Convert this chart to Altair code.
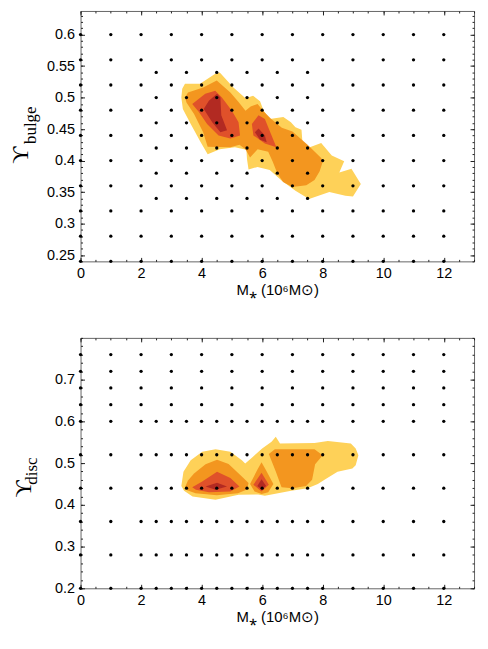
import altair as alt
import pandas as pd

# ---------------- data ----------------
# model grid (top panel: bulge)
top_full_y = [0.60, 0.56, 0.52, 0.48, 0.44, 0.40, 0.36, 0.32, 0.28, 0.24]
top_full_x = [0, 1, 2, 3, 4, 5, 6, 7, 8, 9, 10, 11, 12]
top_half_y = [0.54, 0.50, 0.46, 0.42, 0.38, 0.34]
top_half_x = [2.5, 3.5, 4.5, 5.5, 6.5, 7.5]

# model grid (bottom panel: disc)
bot_upper_y = [0.76, 0.72, 0.68, 0.64]
bot_upper_x = [0, 1, 2, 3, 4, 5, 6, 7, 8, 9, 10, 11, 12]
bot_lower_y = [0.60, 0.52, 0.44, 0.36, 0.28, 0.20]
bot_lower_x = [0, 1, 2, 2.5, 3, 3.5, 4, 4.5, 5, 5.5, 6, 6.5, 7, 7.5, 8, 9, 10, 11, 12]

# contour outlines, top panel (M*, Upsilon_bulge)
top_yellow = [(3.33, 0.500), (3.36, 0.514), (3.45, 0.522), (3.95, 0.522), (4.45, 0.538),
              (4.60, 0.540), (5.05, 0.516), (5.45, 0.499), (5.70, 0.503), (5.93, 0.494),
              (6.05, 0.479), (6.25, 0.466), (6.70, 0.469), (6.95, 0.461), (7.10, 0.453),
              (7.30, 0.449), (7.35, 0.417), (7.95, 0.428), (8.30, 0.408), (8.71, 0.399),
              (8.55, 0.381), (8.95, 0.387), (9.26, 0.363), (9.00, 0.343), (8.75, 0.344),
              (8.22, 0.350), (7.55, 0.339), (7.10, 0.352), (6.65, 0.368), (6.25, 0.385),
              (5.85, 0.390), (5.55, 0.386), (5.50, 0.402), (5.48, 0.417), (5.10, 0.421),
              (4.60, 0.418), (4.20, 0.410), (3.96, 0.430), (3.64, 0.458), (3.38, 0.482)]
top_orange = [(3.45, 0.500), (3.55, 0.508), (4.05, 0.516), (4.50, 0.527), (4.95, 0.508),
              (5.22, 0.493), (5.45, 0.479), (5.62, 0.486), (5.85, 0.490), (6.05, 0.478),
              (6.30, 0.466), (6.65, 0.452), (7.00, 0.446), (7.50, 0.425), (7.95, 0.404),
              (8.00, 0.398), (7.90, 0.383), (7.73, 0.369), (7.46, 0.361), (7.00, 0.358),
              (6.69, 0.366), (6.50, 0.380), (6.35, 0.398), (6.20, 0.414), (5.85, 0.418),
              (5.60, 0.405), (5.45, 0.418), (5.25, 0.425), (4.95, 0.421), (4.20, 0.422),
              (4.05, 0.445), (3.75, 0.474), (3.50, 0.492)]
top_red_a = [(3.69, 0.490), (4.12, 0.506), (4.45, 0.511), (4.67, 0.500), (5.00, 0.479),
             (5.22, 0.461), (5.27, 0.440), (4.95, 0.435), (4.56, 0.440), (4.18, 0.458),
             (3.91, 0.477)]
top_red_b = [(5.66, 0.458), (5.88, 0.472), (6.09, 0.466), (6.20, 0.453), (6.47, 0.421),
             (6.09, 0.427), (5.71, 0.440)]
top_dark_a = [(4.07, 0.482), (4.24, 0.495), (4.51, 0.506), (4.62, 0.500), (4.65, 0.472),
              (4.84, 0.448), (4.62, 0.445), (4.35, 0.461)]
top_dark_b = [(5.76, 0.445), (5.88, 0.451), (6.09, 0.440), (6.15, 0.429), (5.93, 0.433)]

# contour outlines, bottom panel (M*, Upsilon_disc)
bot_yellow = [(3.33, 0.445), (3.40, 0.479), (3.64, 0.507), (4.02, 0.527), (4.46, 0.533),
              (4.95, 0.527), (5.33, 0.507), (5.44, 0.499), (5.66, 0.513), (6.00, 0.535),
              (6.31, 0.551), (6.45, 0.563), (6.59, 0.547), (7.73, 0.548), (8.17, 0.553),
              (8.93, 0.547), (9.09, 0.535), (9.18, 0.519), (9.09, 0.495), (8.98, 0.487),
              (8.49, 0.479), (8.06, 0.460), (7.84, 0.450), (7.50, 0.440), (6.96, 0.434),
              (6.09, 0.422), (5.87, 0.425), (5.22, 0.424), (4.46, 0.412), (3.70, 0.420),
              (3.42, 0.434)]
bot_orange_a = [(3.45, 0.442), (3.55, 0.458), (3.75, 0.475), (4.13, 0.497), (4.51, 0.508),
                (4.89, 0.498), (5.33, 0.468), (5.55, 0.452), (5.50, 0.437), (5.20, 0.428),
                (4.50, 0.423), (3.80, 0.428), (3.52, 0.435)]
bot_orange_b = [(5.60, 0.450), (5.85, 0.485), (5.98, 0.502), (6.15, 0.480), (6.37, 0.450),
                (6.20, 0.430), (5.98, 0.426), (5.75, 0.432)]
bot_orange_c = [(6.22, 0.522), (6.42, 0.533), (7.73, 0.533), (7.84, 0.527), (8.00, 0.519),
                (7.75, 0.497), (7.65, 0.460), (7.45, 0.445), (7.00, 0.440), (6.64, 0.442),
                (6.45, 0.480)]
bot_red_a = [(3.69, 0.442), (4.02, 0.456), (4.51, 0.479), (4.95, 0.464), (5.25, 0.444),
             (4.95, 0.432), (4.24, 0.430), (3.81, 0.436)]
bot_red_b = [(5.71, 0.448), (5.98, 0.477), (6.22, 0.448), (5.98, 0.432)]
bot_dark_a = [(4.13, 0.444), (4.51, 0.453), (4.84, 0.444), (4.46, 0.436)]
bot_dark_b = [(5.84, 0.445), (5.98, 0.461), (6.13, 0.445), (5.98, 0.437)]

level_colors = ["#FED158", "#F3961F", "#E0512A", "#B22A22"]

x_major = [0, 2, 4, 6, 8, 10, 12]
x_minor = [v * 0.5 for v in range(0, 27)]
top_y_major = [0.25, 0.30, 0.35, 0.40, 0.45, 0.50, 0.55, 0.60]
top_y_minor = [round(0.24 + 0.01 * k, 2) for k in range(0, 40)]
bot_y_major = [0.2, 0.3, 0.4, 0.5, 0.6, 0.7]
bot_y_minor = [round(0.2 + 0.02 * k, 2) for k in range(0, 31)]

x_title = "M\u204e (10\u2076M\u2299)"
top_sym, top_sub = "\u03d2", "bulge"
bot_sym, bot_sub = "\u03d2", "disc"

# ---------------- helpers ----------------
W, H = 396, 252
SANS = "Liberation Sans, Arial, sans-serif"
SERIF = "Liberation Serif, DejaVu Serif, serif"


def grid_df(rows_a, xs_a, rows_b, xs_b):
    pts = [(x, y) for y in rows_a for x in xs_a] + [(x, y) for y in rows_b for x in xs_b]
    return pd.DataFrame(pts, columns=["x", "y"])


def poly_df(polys):
    rows = []
    for pid, pts in enumerate(polys):
        for i, (x, y) in enumerate(pts + [pts[0]]):
            rows.append({"pid": pid, "i": i, "x": x, "y": y})
    return pd.DataFrame(rows)


def level_layer(polys, color, xs, ys):
    return alt.Chart(poly_df(polys)).mark_line(
        filled=True, fill=color, strokeOpacity=0, strokeWidth=0
    ).encode(
        x=alt.X("x:Q", scale=xs, axis=None),
        y=alt.Y("y:Q", scale=ys, axis=None),
        detail="pid:N",
        order="i:Q",
    )


def axis_layer(df, xs, ys, xaxis, yaxis):
    return alt.Chart(df).mark_point(opacity=0).encode(
        x=alt.X("x:Q", scale=xs, axis=xaxis),
        y=alt.Y("y:Q", scale=ys, axis=yaxis),
    )


def text_layer(txt, px, py, size):
    return alt.Chart(pd.DataFrame({"t": [txt]})).mark_text(
        angle=270, font=SERIF, fontSize=size, align="center", baseline="middle", color="black"
    ).encode(text="t:N", x=alt.value(px), y=alt.value(py))


def make_panel(dots, levels, ydom, y_major, y_minor, sym, sub, sym_pos, sub_pos):
    xs = alt.Scale(domain=[0, 13], nice=False, zero=False)
    ys = alt.Scale(domain=ydom, nice=False, zero=False)
    common = dict(domain=False, grid=False, tickColor="#222", tickWidth=1)
    flat = dict(minExtent=0, maxExtent=0)
    layers = []
    for polys, col in zip(levels, level_colors):
        layers.append(level_layer(polys, col, xs, ys))
    layers.append(
        alt.Chart(dots).mark_circle(size=11, color="black", opacity=1).encode(
            x=alt.X("x:Q", scale=xs, axis=None), y=alt.Y("y:Q", scale=ys, axis=None)
        )
    )
    # major axes with labels (bottom / left), ticks pointing inward
    layers.append(axis_layer(
        dots, xs, ys,
        alt.Axis(orient="bottom", values=x_major, format="d", tickSize=4, offset=-4,
                 labelPadding=5, title=x_title, titlePadding=3, labelFlush=False, **common),
        alt.Axis(orient="left", values=y_major, format=".2~f", tickSize=4, offset=-4,
                 labelPadding=6, title=None, **common),
    ))
    # major ticks on top / right
    layers.append(axis_layer(
        dots, xs, ys,
        alt.Axis(orient="top", values=x_major, tickSize=4, offset=-4, labels=False, title=None, **common, **flat),
        alt.Axis(orient="right", values=y_major, tickSize=4, offset=-4, labels=False, title=None, **common, **flat),
    ))
    # minor ticks
    layers.append(axis_layer(
        dots, xs, ys,
        alt.Axis(orient="bottom", values=x_minor, tickSize=2, offset=-2, labels=False, title=None, **common, **flat),
        alt.Axis(orient="left", values=y_minor, tickSize=2, offset=-2, labels=False, title=None, **common, **flat),
    ))
    layers.append(axis_layer(
        dots, xs, ys,
        alt.Axis(orient="top", values=x_minor, tickSize=2, offset=-2, labels=False, title=None, **common, **flat),
        alt.Axis(orient="right", values=y_minor, tickSize=2, offset=-2, labels=False, title=None, **common, **flat),
    ))
    layers.append(text_layer(sym, sym_pos[0], sym_pos[1], 24))
    layers.append(text_layer(sub, sub_pos[0], sub_pos[1], 17))
    return alt.layer(*layers).resolve_axis(x="independent", y="independent").properties(width=W, height=H)


top_dots = grid_df(top_full_y, top_full_x, top_half_y, top_half_x)
bot_dots = grid_df(bot_upper_y, bot_upper_x, bot_lower_y, bot_lower_x)

top = make_panel(
    top_dots,
    [[top_yellow], [top_orange], [top_red_a, top_red_b], [top_dark_a, top_dark_b]],
    [0.24, 0.6375], top_y_major, top_y_minor, top_sym, top_sub, (-60, 145), (-50, 115),
)
bottom = make_panel(
    bot_dots,
    [[bot_yellow], [bot_orange_a, bot_orange_b, bot_orange_c], [bot_red_a, bot_red_b], [bot_dark_a, bot_dark_b]],
    [0.2, 0.8], bot_y_major, bot_y_minor, bot_sym, bot_sub, (-57, 152), (-49, 134),
)

chart = alt.vconcat(top, bottom, spacing=39).properties(
    padding={"left": 0, "top": 0, "right": 5, "bottom": 5}
).configure_view(stroke="#666", strokeWidth=1).configure_axis(
    labelFont=SANS, labelFontSize=14.5, labelColor="black",
    titleFont=SANS, titleFontSize=15, titleFontWeight="normal", titleColor="black",
)

chart.save("out.html", embed_options={"renderer": "svg", "actions": False})
